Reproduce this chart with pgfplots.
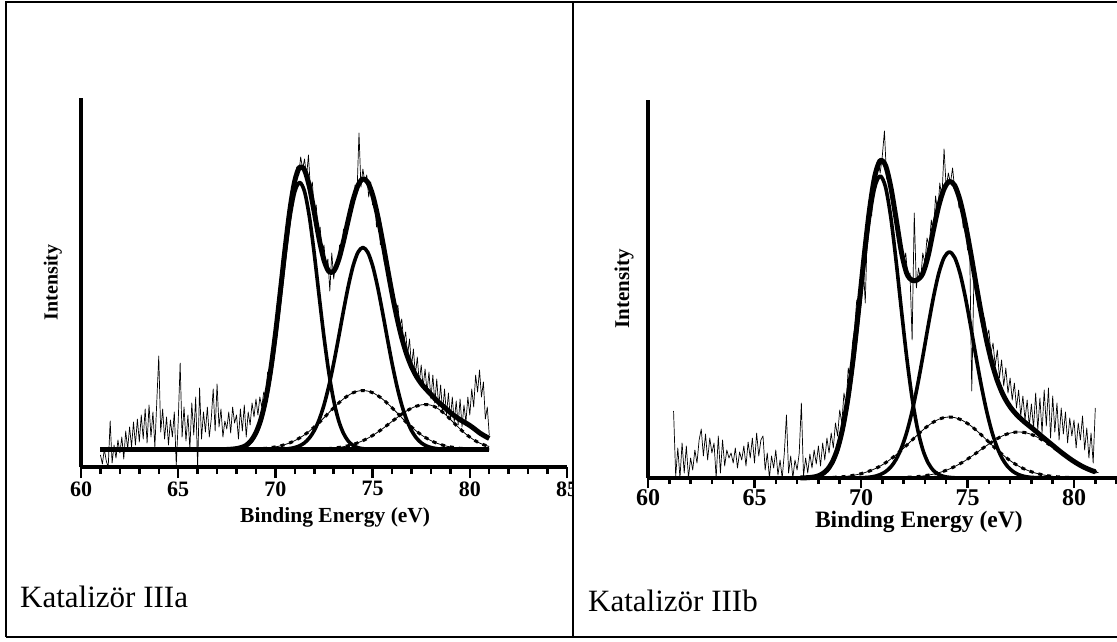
\documentclass[border=0pt]{standalone}
\usepackage{pgfplots}
\pgfplotsset{compat=1.18}
\usepackage{fontspec}
\setmainfont{Liberation Serif}
\pgfplotsset{
  xps/.style={
    scale only axis, axis x line=bottom, axis y line=left,
    axis line style={line width=4pt,-},
    xmin=60, ymin=0, enlargelimits=false,
    ytick=\empty,
    xtick={60,65,...,85}, minor xtick={60,...,85},
    tick align=outside,
    tick style={line width=2.5pt,black},
    /pgf/number format/assume math mode=true,
    clip=false,
  },
  raw/.style={black, line width=0.7pt, line join=round},
  comp/.style={black, line width=3.6pt, smooth, line join=round},
  env/.style={black, line width=5pt, smooth, line join=round},
  dashc/.style={black, line width=3pt, smooth, dash pattern=on 4pt off 5pt},
  thinc/.style={black, line width=0.8pt, smooth},
}
\begin{document}
\begin{tikzpicture}
\useasboundingbox (0pt,0pt) rectangle (1117pt,641pt);
% frame
\draw[line width=2pt] (6pt,4pt) -- (6pt,639pt) -- (1117pt,639pt);
\draw[line width=2pt] (6pt,4pt) -- (1117pt,4pt);
\draw[line width=2pt] (573pt,4pt) -- (573pt,639pt);

% ---------------- left panel ----------------
\begin{scope}
\clip (7pt,5pt) rectangle (572pt,638pt);
\begin{axis}[xps,
  at={(81pt,174pt)}, anchor=south west,
  width=486pt, height=369pt,
  xmax=85, ymax=369,
  major tick length=11pt, minor tick length=7pt,
  xticklabel style={font=\bfseries\fontsize{22}{22}\selectfont},
  xlabel={Binding Energy (eV)},
  xlabel style={font=\bfseries\fontsize{21.5}{21.5}\selectfont, at={(axis description cs:0.523,0)}, anchor=center, yshift=-50pt},
  ylabel={Intensity},
  ylabel style={font=\bfseries\fontsize{20}{20}\selectfont, at={(axis description cs:-0.058,0.5)}, anchor=center},
]
\addplot[raw] coordinates {(61.0,12)(61.1,3)(61.2,18)(61.3,6)(61.4,0)(61.5,46)(61.6,4)(61.7,22)(61.8,9)(61.9,27)
(62.0,14)(62.1,30)(62.2,8)(62.3,36)(62.4,18)(62.5,40)(62.6,20)(62.7,45)(62.8,22)(62.9,48)
(63.0,25)(63.1,52)(63.2,28)(63.3,58)(63.4,24)(63.5,62)(63.6,30)(63.7,55)(63.8,20)(63.9,66)
(64.0,111)(64.1,35)(64.2,58)(64.3,28)(64.4,50)(64.5,22)(64.6,47)(64.7,30)(64.8,55)(64.9,2)
(65.0,45)(65.1,104)(65.2,30)(65.3,60)(65.4,26)(65.5,52)(65.6,18)(65.7,64)(65.8,32)(65.9,70)
(66.0,0)(66.1,79)(66.2,28)(66.3,55)(66.4,35)(66.5,60)(66.6,30)(66.7,48)(66.8,78)(66.9,36)
(67.0,83)(67.1,40)(67.2,58)(67.3,30)(67.4,46)(67.5,38)(67.6,55)(67.7,34)(67.8,60)(67.9,44)
(68.0,52)(68.1,28)(68.2,58)(68.3,36)(68.4,62)(68.5,30)(68.6,55)(68.7,42)(68.8,64)(68.9,50)
(69.0,68)(69.1,52)(69.2,70)(69.3,60)(69.4,75)(69.5,70)(69.6,95)(69.7,88)(69.8,112)(69.9,108)
(70.0,140)(70.1,145)(70.2,168)(70.3,178)(70.4,205)(70.5,210)(70.6,238)(70.7,245)(70.8,268)(70.9,275)
(71.0,290)(71.1,300)(71.2,292)(71.3,310)(71.4,298)(71.5,308)(71.6,290)(71.7,312)(71.8,278)(71.9,285)
(72.0,255)(72.1,262)(72.2,232)(72.3,240)(72.4,215)(72.5,222)(72.6,198)(72.7,208)(72.8,176)(72.9,214)
(73.0,188)(73.1,205)(73.2,198)(73.3,222)(73.4,210)(73.5,238)(73.6,228)(73.7,250)(73.8,245)(73.9,268)
(74.0,262)(74.1,282)(74.2,275)(74.3,334)(74.4,280)(74.5,298)(74.6,285)(74.7,292)(74.8,270)(74.9,285)
(75.0,262)(75.1,270)(75.2,240)(75.3,255)(75.4,222)(75.5,232)(75.6,205)(75.7,210)(75.8,188)(75.9,190)
(76.0,172)(76.1,168)(76.2,155)(76.3,162)(76.4,140)(76.5,148)(76.6,125)(76.7,135)(76.8,112)(76.9,128)
(77.0,100)(77.1,118)(77.2,92)(77.3,110)(77.4,84)(77.5,102)(77.6,80)(77.7,98)(77.8,75)(77.9,95)
(78.0,68)(78.1,92)(78.2,64)(78.3,88)(78.4,60)(78.5,82)(78.6,55)(78.7,78)(78.8,52)(78.9,74)
(79.0,48)(79.1,70)(79.2,45)(79.3,66)(79.4,42)(79.5,68)(79.6,40)(79.7,62)(79.8,45)(79.9,70)
(80.0,52)(80.1,78)(80.2,60)(80.3,92)(80.4,75)(80.5,97)(80.6,70)(80.7,85)(80.8,48)(80.9,60)(81.0,32)};
% baseline
\addplot[black, line width=5pt] coordinates {(61,17.5)(81,17.5)};
% component 3 (dashed)
\addplot[thinc] coordinates {(67.5,17.5)(68,17.6)(68.5,17.7)(69,18.1)(69.5,18.7)(70,20.1)(70.25,21.1)(70.5,22.5)(70.75,24.2)(71,26.4)(71.25,29.1)(71.5,32.2)(71.75,35.9)(72,40)(72.25,44.5)(72.5,49.3)(72.75,54.3)(73,59.2)(73.25,63.9)(73.5,68.1)(73.75,71.6)(74,74.3)(74.25,75.9)(74.5,76.5)(74.75,75.9)(75,74.3)(75.25,71.6)(75.5,68.1)(75.75,63.9)(76,59.2)(76.25,54.3)(76.5,49.3)(76.75,44.5)(77,40)(77.25,35.9)(77.5,32.2)(77.75,29.1)(78,26.4)(78.25,24.2)(78.5,22.5)(78.75,21.1)(79,20.1)(79.5,18.7)(80,18.1)(80.5,17.7)(81,17.6)};
\addplot[dashc] coordinates {(67.5,17.5)(68,17.6)(68.5,17.7)(69,18.1)(69.5,18.7)(70,20.1)(70.25,21.1)(70.5,22.5)(70.75,24.2)(71,26.4)(71.25,29.1)(71.5,32.2)(71.75,35.9)(72,40)(72.25,44.5)(72.5,49.3)(72.75,54.3)(73,59.2)(73.25,63.9)(73.5,68.1)(73.75,71.6)(74,74.3)(74.25,75.9)(74.5,76.5)(74.75,75.9)(75,74.3)(75.25,71.6)(75.5,68.1)(75.75,63.9)(76,59.2)(76.25,54.3)(76.5,49.3)(76.75,44.5)(77,40)(77.25,35.9)(77.5,32.2)(77.75,29.1)(78,26.4)(78.25,24.2)(78.5,22.5)(78.75,21.1)(79,20.1)(79.5,18.7)(80,18.1)(80.5,17.7)(81,17.6)};
% component 4 (dashed)
\addplot[thinc] coordinates {(69,17.5)(71,17.5)(72,17.8)(72.5,18.1)(73,18.9)(73.25,19.5)(73.5,20.3)(73.75,21.3)(74,22.6)(74.25,24.3)(74.5,26.3)(74.75,28.7)(75,31.5)(75.25,34.7)(75.5,38.1)(75.75,41.8)(76,45.6)(76.25,49.3)(76.5,52.9)(76.75,56.1)(77,58.8)(77.25,60.8)(77.5,62.1)(77.75,62.5)(78,61.8)(78.25,59.7)(78.5,56.5)(78.75,52.4)(79,47.7)(79.25,42.8)(79.5,38.1)(79.75,33.7)(80,29.9)(80.25,26.6)(80.5,24)(80.75,22)(81,20.5)};
\addplot[dashc] coordinates {(69,17.5)(71,17.5)(72,17.8)(72.5,18.1)(73,18.9)(73.25,19.5)(73.5,20.3)(73.75,21.3)(74,22.6)(74.25,24.3)(74.5,26.3)(74.75,28.7)(75,31.5)(75.25,34.7)(75.5,38.1)(75.75,41.8)(76,45.6)(76.25,49.3)(76.5,52.9)(76.75,56.1)(77,58.8)(77.25,60.8)(77.5,62.1)(77.75,62.5)(78,61.8)(78.25,59.7)(78.5,56.5)(78.75,52.4)(79,47.7)(79.25,42.8)(79.5,38.1)(79.75,33.7)(80,29.9)(80.25,26.6)(80.5,24)(80.75,22)(81,20.5)};
% component 1
\addplot[comp] coordinates {(67.5,17.6)(67.75,17.8)(68,18.3)(68.25,19.3)(68.5,21.5)(68.75,25.9)(69,33.7)(69.25,46.6)(69.5,66.4)(69.75,94.3)(70,129.9)(70.25,170.9)(70.5,213)(70.75,250)(71,275.4)(71.25,284.5)(71.5,275.4)(71.75,250)(72,213)(72.25,170.9)(72.5,129.9)(72.75,94.3)(73,66.4)(73.25,46.6)(73.5,33.7)(73.75,25.9)(74,21.5)(74.25,19.3)(74.5,18.3)(74.75,17.8)(75,17.6)};
% component 2
\addplot[comp] coordinates {(70,17.6)(70.5,18)(70.75,18.5)(71,19.5)(71.25,21.2)(71.5,24.2)(71.75,29.1)(72,36.5)(72.25,47.3)(72.5,62)(72.75,81)(73,103.8)(73.25,129.4)(73.5,155.9)(73.75,180.8)(74,201.3)(74.25,214.8)(74.5,219.5)(74.75,214.8)(75,201.3)(75.25,180.8)(75.5,155.9)(75.75,129.4)(76,103.8)(76.25,81)(76.5,62)(76.75,47.3)(77,36.5)(77.25,29.1)(77.5,24.2)(77.75,21.2)(78,19.5)(78.25,18.5)(78.5,18)(79,17.6)};
% envelope
\addplot[env] coordinates {(67.5,17.6)(67.75,17.8)(68,18.4)(68.25,19.5)(68.5,21.7)(68.75,26.3)(69,34.3)(69.25,47.4)(69.5,67.6)(69.75,96.1)(70,132.6)(70.25,174.8)(70.5,218.5)(70.75,257.7)(71,286.3)(71.25,299.9)(71.5,296.9)(71.75,280.2)(72,254.8)(72.25,228.1)(72.5,206.8)(72.75,195.5)(73,195.8)(73.25,206.9)(73.5,225.5)(73.75,247.1)(74,267.2)(74.25,281.8)(74.5,288.1)(74.75,284.7)(75,272.2)(75.25,252.1)(75.5,227.1)(75.75,200.1)(76,173.6)(76.25,149.6)(76.5,129.2)(76.75,112.9)(77,100.3)(77.25,90.8)(77.5,83.5)(77.75,77.8)(78,72.7)(78.25,67.4)(78.5,63)(78.75,58.8)(79,54.4)(79.25,50.6)(79.5,47.3)(79.75,44.5)(80,41.5)(80.25,38)(80.5,34.2)(80.75,31.2)(81,28.6)};
\end{axis}
\end{scope}
\node[anchor=base west, font=\fontsize{31}{31}\selectfont, inner sep=0pt] at (20pt,34pt) {Katalizör IIIa};

% ---------------- right panel ----------------
\begin{scope}
\clip (574pt,5pt) rectangle (1117pt,638pt);
\begin{axis}[xps,
  at={(648pt,163pt)}, anchor=south west,
  width=468.6pt, height=378pt,
  xmax=82, ymax=378,
  major tick length=10pt, minor tick length=6pt,
  xticklabel style={font=\bfseries\fontsize{24}{24}\selectfont, yshift=2pt},
  xlabel={Binding Energy (eV)},
  xlabel style={font=\bfseries\fontsize{23.5}{23.5}\selectfont, at={(axis description cs:0.578,0)}, anchor=center, yshift=-44pt},
  ylabel={Intensity},
  ylabel style={font=\bfseries\fontsize{21}{21}\selectfont, at={(axis description cs:-0.051,0.5)}, anchor=center},
]
\addplot[raw] coordinates {(61.2,67)(61.3,2)(61.4,30)(61.5,0)(61.6,35)(61.7,5)(61.8,32)(61.9,0)
(62.0,20)(62.1,8)(62.2,28)(62.3,15)(62.4,38)(62.5,49)(62.6,22)(62.7,44)(62.8,18)(62.9,40)
(63.0,25)(63.1,35)(63.2,0)(63.3,42)(63.4,5)(63.5,38)(63.6,12)(63.7,28)(63.8,20)(63.9,25)
(64.0,15)(64.1,30)(64.2,10)(64.3,26)(64.4,18)(64.5,32)(64.6,12)(64.7,36)(64.8,20)(64.9,40)
(65.0,15)(65.1,45)(65.2,22)(65.3,38)(65.4,42)(65.5,8)(65.6,25)(65.7,0)(65.8,22)(65.9,10)
(66.0,28)(66.1,3)(66.2,18)(66.3,0)(66.4,25)(66.5,63)(66.6,5)(66.7,22)(66.8,0)(66.9,18)
(67.0,8)(67.1,25)(67.2,75)(67.3,2)(67.4,20)(67.5,5)(67.6,24)(67.7,10)(67.8,28)(67.9,14)
(68.0,32)(68.1,12)(68.2,35)(68.3,18)(68.4,40)(68.5,25)(68.6,45)(68.7,30)(68.8,55)(68.9,42)
(69.0,68)(69.1,55)(69.2,85)(69.3,72)(69.4,110)(69.5,98)(69.6,135)(69.7,150)(69.8,178)(69.9,160)
(70.0,205)(70.1,215)(70.2,175)(70.3,250)(70.4,275)(70.5,262)(70.6,300)(70.7,290)(70.8,318)(70.9,305)
(71.0,322)(71.1,347)(71.2,300)(71.3,295)(71.4,285)(71.5,270)(71.6,262)(71.7,248)(71.8,240)(71.9,228)
(72.0,215)(72.1,225)(72.2,200)(72.3,205)(72.4,138)(72.5,265)(72.6,190)(72.7,210)(72.8,198)(72.9,225)
(73.0,215)(73.1,240)(73.2,232)(73.3,258)(73.4,245)(73.5,282)(73.6,265)(73.7,295)(73.8,280)(73.9,329)
(74.0,290)(74.1,305)(74.2,295)(74.3,310)(74.4,288)(74.5,292)(74.6,270)(74.7,275)(74.8,250)(74.9,258)
(75.0,228)(75.1,235)(75.2,87)(75.3,200)(75.4,190)(75.5,170)(75.6,178)(75.7,150)(75.8,160)(75.9,140)
(76.0,148)(76.1,125)(76.2,135)(76.3,112)(76.4,128)(76.5,100)(76.6,118)(76.7,92)(76.8,110)(76.9,85)
(77.0,100)(77.1,78)(77.2,95)(77.3,70)(77.4,88)(77.5,62)(77.6,82)(77.7,58)(77.8,78)(77.9,52)
(78.0,74)(78.1,50)(78.2,85)(78.3,48)(78.4,80)(78.5,45)(78.6,88)(78.7,52)(78.8,90)(78.9,40)
(79.0,82)(79.1,46)(79.2,75)(79.3,38)(79.4,70)(79.5,44)(79.6,66)(79.7,35)(79.8,60)(79.9,42)
(80.0,58)(80.1,30)(80.2,55)(80.3,38)(80.4,62)(80.5,28)(80.6,50)(80.7,20)(80.8,45)(80.9,15)(81.0,70)};
% component 3 (dashed)
\addplot[thinc] coordinates {(67.4,0)(67.9,0.1)(68.15,0.2)(68.4,0.4)(68.65,0.6)(68.9,0.9)(69.15,1.3)(69.4,1.9)(69.65,2.7)(69.9,3.8)(70.15,5.2)(70.4,7)(70.65,9.2)(70.9,11.9)(71.15,15.2)(71.4,19)(71.65,23.3)(71.9,27.9)(72.15,32.9)(72.4,38)(72.65,43.1)(72.9,47.9)(73.15,52.3)(73.4,55.9)(73.65,58.7)(73.9,60.4)(74.15,61)(74.4,60.4)(74.65,58.7)(74.9,55.9)(75.15,52.3)(75.4,47.9)(75.65,43.1)(75.9,38)(76.15,32.9)(76.4,27.9)(76.65,23.3)(76.9,19)(77.15,15.2)(77.4,11.9)(77.65,9.2)(77.9,7)(78.15,5.2)(78.4,3.8)(78.65,2.7)(78.9,1.9)(79.15,1.3)(79.4,0.9)(79.65,0.6)(79.9,0.4)(80.15,0.2)(80.4,0.1)(81,0)};
\addplot[dashc] coordinates {(67.4,0)(67.9,0.1)(68.15,0.2)(68.4,0.4)(68.65,0.6)(68.9,0.9)(69.15,1.3)(69.4,1.9)(69.65,2.7)(69.9,3.8)(70.15,5.2)(70.4,7)(70.65,9.2)(70.9,11.9)(71.15,15.2)(71.4,19)(71.65,23.3)(71.9,27.9)(72.15,32.9)(72.4,38)(72.65,43.1)(72.9,47.9)(73.15,52.3)(73.4,55.9)(73.65,58.7)(73.9,60.4)(74.15,61)(74.4,60.4)(74.65,58.7)(74.9,55.9)(75.15,52.3)(75.4,47.9)(75.65,43.1)(75.9,38)(76.15,32.9)(76.4,27.9)(76.65,23.3)(76.9,19)(77.15,15.2)(77.4,11.9)(77.65,9.2)(77.9,7)(78.15,5.2)(78.4,3.8)(78.65,2.7)(78.9,1.9)(79.15,1.3)(79.4,0.9)(79.65,0.6)(79.9,0.4)(80.15,0.2)(80.4,0.1)(81,0)};
% component 4 (dashed)
\addplot[thinc] coordinates {(70.5,0)(71.15,0.1)(71.4,0.2)(71.65,0.3)(71.9,0.4)(72.15,0.7)(72.4,1)(72.65,1.4)(72.9,2)(73.15,2.8)(73.4,3.9)(73.65,5.3)(73.9,6.9)(74.15,9)(74.4,11.5)(74.65,14.3)(74.9,17.5)(75.15,21.1)(75.4,24.8)(75.65,28.7)(75.9,32.5)(76.15,36.1)(76.4,39.4)(76.65,42.2)(76.9,44.3)(77.15,45.6)(77.4,46)(77.65,45.6)(77.9,44.3)(78.15,42.2)(78.4,39.4)(78.65,36.1)(78.9,32.5)(79.15,28.7)(79.4,24.8)(79.65,21.1)(79.9,17.5)(80.15,14.3)(80.4,11.5)(80.65,9)(80.9,6.9)(81.15,5.3)};
\addplot[dashc] coordinates {(70.5,0)(71.15,0.1)(71.4,0.2)(71.65,0.3)(71.9,0.4)(72.15,0.7)(72.4,1)(72.65,1.4)(72.9,2)(73.15,2.8)(73.4,3.9)(73.65,5.3)(73.9,6.9)(74.15,9)(74.4,11.5)(74.65,14.3)(74.9,17.5)(75.15,21.1)(75.4,24.8)(75.65,28.7)(75.9,32.5)(76.15,36.1)(76.4,39.4)(76.65,42.2)(76.9,44.3)(77.15,45.6)(77.4,46)(77.65,45.6)(77.9,44.3)(78.15,42.2)(78.4,39.4)(78.65,36.1)(78.9,32.5)(79.15,28.7)(79.4,24.8)(79.65,21.1)(79.9,17.5)(80.15,14.3)(80.4,11.5)(80.65,9)(80.9,6.9)(81.15,5.3)};
% component 1
\addplot[comp] coordinates {(67.15,0.1)(67.4,0.2)(67.65,0.6)(67.9,1.5)(68.15,3.5)(68.4,7.5)(68.65,15.2)(68.9,28.4)(69.15,49.5)(69.4,79.9)(69.65,120)(69.9,167.3)(70.15,216.6)(70.4,260.5)(70.65,291.1)(70.9,302)(71.15,291.1)(71.4,260.5)(71.65,216.6)(71.9,167.3)(72.15,120)(72.4,79.9)(72.65,49.5)(72.9,28.4)(73.15,15.2)(73.4,7.5)(73.65,3.5)(73.9,1.5)(74.15,0.6)(74.4,0.2)(74.65,0.1)};
% component 2
\addplot[comp] coordinates {(69.9,0.2)(70.15,0.4)(70.4,0.8)(70.65,1.7)(70.9,3.4)(71.15,6.3)(71.4,11.1)(71.65,18.7)(71.9,30.1)(72.15,45.9)(72.4,66.7)(72.65,92.2)(72.9,121.2)(73.15,151.7)(73.4,180.6)(73.65,204.6)(73.9,220.4)(74.15,226)(74.4,220.4)(74.65,204.6)(74.9,180.6)(75.15,151.7)(75.4,121.2)(75.65,92.2)(75.9,66.7)(76.15,45.9)(76.4,30.1)(76.65,18.7)(76.9,11.1)(77.15,6.3)(77.4,3.4)(77.65,1.7)(77.9,0.8)(78.15,0.4)(78.4,0.2)};
% envelope
\addplot[env] coordinates {(67.15,0.1)(67.4,0.2)(67.65,0.6)(67.9,1.5)(68.15,3.7)(68.4,7.9)(68.65,15.8)(68.9,29.3)(69.15,50.8)(69.4,81.8)(69.65,122.7)(69.9,171.1)(70.15,222.2)(70.4,268.3)(70.65,302)(70.9,317.3)(71.15,312.6)(71.4,290.8)(71.65,258.9)(71.9,225.7)(72.15,204.5)(72.4,197.6)(72.65,198.2)(72.9,204.5)(73.15,222)(73.4,247.9)(73.65,272.1)(73.9,289.2)(74.15,296.6)(74.4,292.5)(74.65,277.6)(74.9,254)(75.15,225.1)(75.4,193.9)(75.65,164)(75.9,137.2)(76.15,114.9)(76.4,97.4)(76.65,84.2)(76.9,74.4)(77.15,67.1)(77.4,61.3)(77.65,56.5)(77.9,52.1)(78.15,47.8)(78.4,43.2)(78.65,38.8)(78.9,34.4)(79.15,30)(79.4,25.7)(79.65,21.7)(79.9,17.9)(80.15,14.5)(80.4,11.5)(80.65,9)(80.9,6.9)(81.0,6.2)};
\end{axis}
\end{scope}
\node[anchor=base west, font=\fontsize{31}{31}\selectfont, inner sep=0pt] at (588pt,30pt) {Katalizör IIIb};
\end{tikzpicture}
\end{document}
